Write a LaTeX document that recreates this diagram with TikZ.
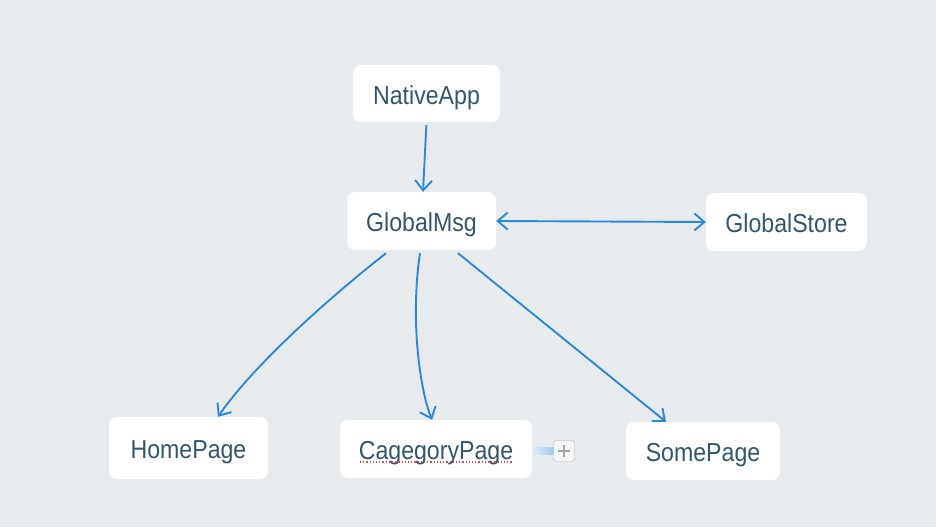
\documentclass[tikz,border=0pt]{standalone}
\usepackage{fontspec}
\setmainfont[FakeStretch=0.89]{Liberation Sans}
\usetikzlibrary{arrows.meta}

\definecolor{bgcol}{HTML}{E8EBEE}
\definecolor{txtcol}{HTML}{33566A}
\definecolor{arrcol}{HTML}{2C88D9}
\definecolor{spellcol}{HTML}{E0484C}

\tikzset{
  pagebox/.style={rectangle, rounded corners=8pt, fill=white, text=txtcol,
    inner sep=0pt, text height=21pt, text depth=0pt,
    font=\fontsize{26}{30}\selectfont},
  barb/.tip={Straight Barb[length=10pt,width=17pt,line width=1.9pt]},
  link/.style={draw=arrcol, line width=1.9pt, -barb}
}

\begin{document}
\begin{tikzpicture}[x=1pt,y=-1pt]
\useasboundingbox[fill=bgcol] (0,0) rectangle (936,527);

\node[pagebox, minimum width=147pt, minimum height=57pt] (native) at (426.5,93.5) {NativeApp};
\node[pagebox, minimum width=149pt, minimum height=58pt] (msg) at (421.5,221) {GlobalMsg};
\node[pagebox, minimum width=161pt, minimum height=58pt] (store) at (786.5,222) {GlobalStore};

\node[pagebox, minimum width=159pt, minimum height=62pt] (home) at (188.5,448) {HomePage};
\node[pagebox, minimum width=192pt, minimum height=58pt] (cat) at (436,449) {CagegoryPage};
\node[pagebox, minimum width=154pt, minimum height=58pt] (some) at (703,451) {SomePage};

% spell check mark and add button
\draw[spellcol, dotted, line width=1.2pt] ([xshift=-76pt,yshift=-13pt]cat.center) -- ([xshift=77pt,yshift=-13pt]cat.center);
\node[rectangle, rounded corners=3pt, draw=black!30, fill=black!4, minimum size=21pt, inner sep=0pt] (plus) at (564,451) {};
\fill[left color=arrcol!15, right color=arrcol!45] (532,447) rectangle (plus.west |- 0,454);
\draw[black!35, line width=1.2pt] ([xshift=-6pt]plus.center) -- ([xshift=6pt]plus.center);
\draw[black!35, line width=1.2pt] ([yshift=-6pt]plus.center) -- ([yshift=6pt]plus.center);

\draw[link, shorten <=3pt] (native.south) -- ([xshift=1.5pt]msg.north);
\draw[link, barb-barb] (msg.east) -- (store.west);

\draw[link] ([xshift=-35.5pt,yshift=-3pt]msg.south) .. controls (320,305) and (250,370) .. ([xshift=29.5pt]home.north);
\draw[link] ([xshift=-1.5pt,yshift=-3pt]msg.south) .. controls (410,320) and (420,390) .. ([xshift=-4pt]cat.north);
\draw[link] ([xshift=36.5pt,yshift=-3pt]msg.south) -- ([xshift=-37pt]some.north);
\end{tikzpicture}
\end{document}
